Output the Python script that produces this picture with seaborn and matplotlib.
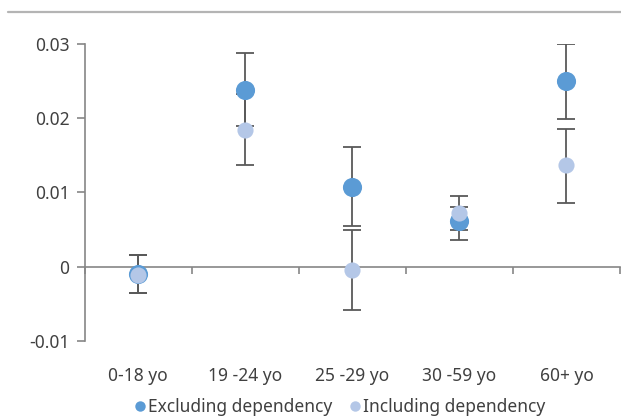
import numpy as np
import pandas as pd
import matplotlib
matplotlib.use("Agg")
import matplotlib.pyplot as plt
from matplotlib.lines import Line2D
from matplotlib.ticker import FixedLocator
import seaborn as sns

categories = ["0-18 yo", "19 -24 yo", "25 -29 yo", "30 -59 yo", "60+ yo"]
excl_values = [-0.0010, 0.0239, 0.0108, 0.0061, 0.0251]
excl_err_low = [0.0026, 0.0049, 0.0053, 0.0025, 0.0052]
excl_err_high = [0.0025, 0.0049, 0.0053, 0.0020, 0.0049]
incl_values = [-0.0012, 0.0185, -0.0004, 0.0073, 0.01365]
incl_err_low = [0.0024, 0.0048, 0.0054, 0.0023, 0.0050]
incl_err_high = [0.0027, 0.0048, 0.0054, 0.0022, 0.0049]
series_names = ["Excluding dependency", "Including dependency"]
y_ticks = [-0.01, 0, 0.01, 0.02, 0.03]
y_tick_labels = ["-0.01", "0", "0.01", "0.02", "0.03"]

sns.set_style("white")
plt.rcParams["font.family"] = ["Noto Sans", "DejaVu Sans"]

c_excl = "#5b9bd5"
c_incl = "#b4c7e7"
text_c = "#404040"
axis_c = "#868686"
err_c = "#595959"

pos = np.arange(len(categories))
df = pd.DataFrame({
    "pos": np.concatenate([pos, pos]),
    "value": excl_values + incl_values,
    "series": [series_names[0]] * len(pos) + [series_names[1]] * len(pos),
})

fig = plt.figure(figsize=(6.21, 4.18), dpi=100)
ax = fig.add_axes([84.7 / 621, 1 - 340.7 / 418, (620 - 84.7) / 621, (340.7 - 44.3) / 418])

for vals, lo, hi in [(excl_values, excl_err_low, excl_err_high),
                     (incl_values, incl_err_low, incl_err_high)]:
    ax.errorbar(pos, vals, yerr=[lo, hi], fmt="none", ecolor=err_c,
                elinewidth=1.3, capsize=6.7, capthick=1.3, zorder=2)

sns.scatterplot(data=df[df.series == series_names[0]], x="pos", y="value",
                color=c_excl, s=190, linewidth=0, ax=ax, zorder=3, legend=False)
sns.scatterplot(data=df[df.series == series_names[1]], x="pos", y="value",
                color=c_incl, s=135, linewidth=0, ax=ax, zorder=4, legend=False)

ax.set_xlim(-0.5, len(categories) - 0.5)
ax.set_ylim(-0.01, 0.03)
ax.set_xlabel("")
ax.set_ylabel("")

for s in ["top", "right"]:
    ax.spines[s].set_visible(False)
ax.spines["left"].set_color(axis_c)
ax.spines["left"].set_linewidth(1.2)
ax.spines["bottom"].set_position(("data", 0))
ax.spines["bottom"].set_color(axis_c)
ax.spines["bottom"].set_linewidth(1.2)

ax.set_yticks(y_ticks)
ax.set_yticklabels(y_tick_labels)
ax.tick_params(axis="y", direction="out", length=6, width=1.2, color=axis_c,
               labelsize=12.5, labelcolor=text_c, pad=5, left=True)

ax.set_xticks(pos)
ax.set_xticklabels(categories)
ax.xaxis.set_minor_locator(FixedLocator(np.arange(len(categories) + 1) - 0.5))
ax.tick_params(axis="x", which="major", length=0, labelsize=12.5, labelcolor=text_c, pad=72, bottom=True)
ax.tick_params(axis="x", which="minor", direction="out", length=5, width=1.2, color=axis_c, bottom=True)

handles = [Line2D([], [], marker="o", linestyle="none", markersize=7.5, color=c_excl, markeredgewidth=0),
           Line2D([], [], marker="o", linestyle="none", markersize=7.5, color=c_incl, markeredgewidth=0)]
fig.legend(handles, series_names, loc="center", bbox_to_anchor=(339 / 621, 1 - 407 / 418),
           ncol=2, frameon=False, fontsize=12.5, labelcolor=text_c, handletextpad=0.05,
           columnspacing=0.9, handlelength=0.8, borderaxespad=0, borderpad=0)

fig.add_artist(Line2D([8 / 621, 1], [1 - 11.7 / 418] * 2, color="#b4b4b4", linewidth=1.6,
                      transform=fig.transFigure))

fig.savefig("out.png", dpi=100)
